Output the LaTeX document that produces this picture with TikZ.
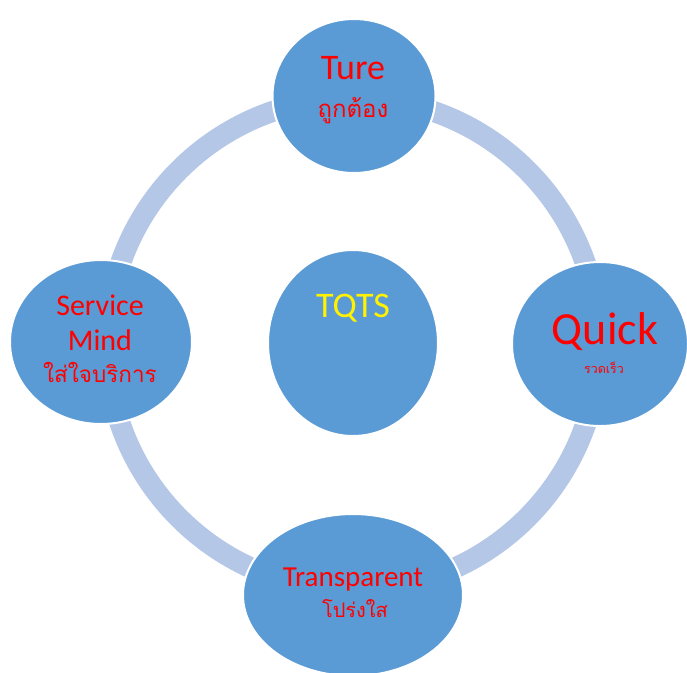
\documentclass[tikz,border=0pt]{standalone}
\usepackage{fontspec}
\setmainfont{Carlito}
\newfontfamily\thaifont[Script=Thai]{Loma}
\usepackage{tikz}
\usetikzlibrary{shapes.geometric}
\definecolor{bubbleblue}{HTML}{5B9BD5}
\definecolor{ringblue}{HTML}{B4C7E7}

\begin{document}
\begin{tikzpicture}[x=1pt, y=-1pt,
    bubble/.style={ellipse, fill=bubbleblue, draw=white, line width=2pt, inner sep=0pt},
    word/.style={text=red, inner sep=0pt, anchor=base}]
  \useasboundingbox (0,0) rectangle (687,672);
  \coordinate (mid) at (353,344);
  \draw[ringblue, line width=21pt] (mid) circle (246pt);
  % the five bubbles
  \node[bubble, minimum width=163pt, minimum height=154pt] (ture) at (354,96) {};
  \node[bubble, minimum width=176pt, minimum height=164pt] (quick) at (600,344) {};
  \node[bubble, minimum width=182pt, minimum height=164pt] (service) at (101,342) {};
  \node[bubble, minimum width=220pt, minimum height=162pt] (transparent) at (353,595) {};
  \node[bubble, minimum width=170pt, minimum height=186pt] (tqts) at (353,343) {};
  % texts
  \node[word, font=\fontsize{36}{40}\selectfont] (turetxt) at (353,79) {Ture};
  \node[word, font=\thaifont\fontsize{24}{28}\selectfont] (turethai) at (353,117) {ถูกต้อง};
  \node[word, font=\fontsize{46}{50}\selectfont] (quicktxt) at (605,344) {Quick};
  \node[word, font=\thaifont\fontsize{12.5}{15}\selectfont] (quickthai) at (604,373) {รวดเร็ว};
  \node[word, font=\fontsize{30}{34}\selectfont] (servicetxt) at (100,315) {Service};
  \node[word, font=\fontsize{30}{34}\selectfont] (mindtxt) at (100,350) {Mind};
  \node[word, font=\thaifont\fontsize{22.5}{27}\selectfont] (servicethai) at (100,382) {ใส่ใจบริการ};
  \node[word, font=\fontsize{29}{32}\selectfont] (transtxt) at (353,586) {Transparent};
  \node[word, font=\thaifont\fontsize{20}{24}\selectfont] (transthai) at (355,617) {โปร่งใส};
  \node[word, text=yellow, font=\fontsize{36}{40}\selectfont] (tqtstxt) at (353,317) {TQTS};
\end{tikzpicture}
\end{document}
